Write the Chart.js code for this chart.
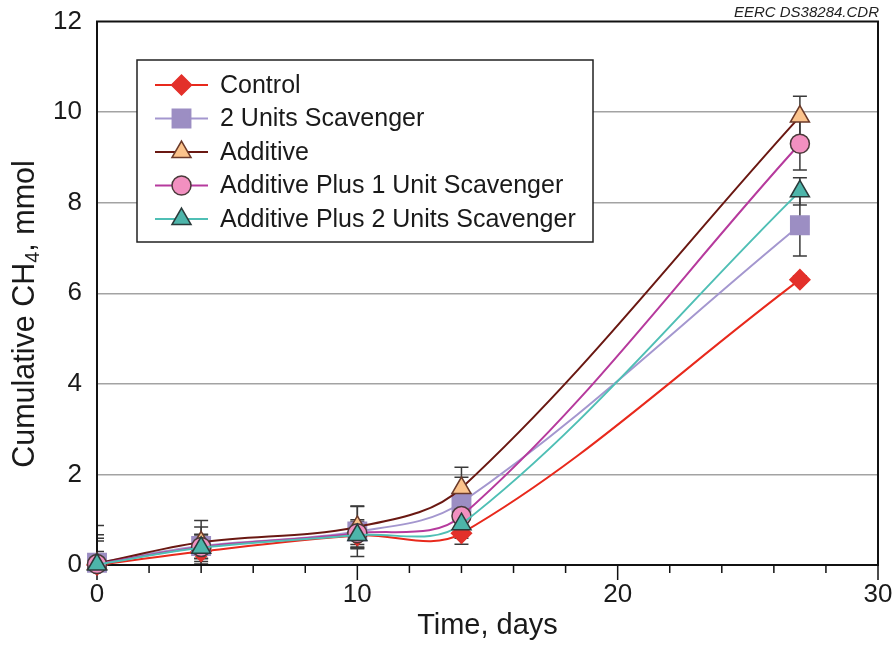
<!DOCTYPE html>
<html>
<head>
<meta charset="utf-8">
<title>Cumulative CH4</title>
<script src="https://cdn.jsdelivr.net/npm/chart.js@4.4.1/dist/chart.umd.min.js"></script>
<style>
  html, body { margin: 0; padding: 0; background: #fff; }
  #wrap { position: relative; width: 896px; height: 647px; }
  #note {
    position: absolute; right: 17px; top: 3px;
    font: italic 15px "Liberation Sans", Arial, sans-serif; color: #222;
  }
</style>
</head>
<body>
<div id="wrap">
  <canvas id="chart" width="896" height="647"></canvas>
  <div id="note">EERC DS38284.CDR</div>
</div>
<script>
// Data
const days = [0, 4, 10, 14, 27];
const seriesNames = ["Control", "2 Units Scavenger", "Additive",
  "Additive Plus 1 Unit Scavenger", "Additive Plus 2 Units Scavenger"];

const control = [0, 0.3, 0.65, 0.7, 6.3];
const scavenger2 = [0.05, 0.42, 0.74, 1.38, 7.5];
const additive = [0.03, 0.5, 0.84, 1.7, 9.9];
const plus1 = [0.02, 0.4, 0.7, 1.08, 9.3];
const plus2 = [0.01, 0.38, 0.66, 0.9, 8.25];

// error bar half-widths (+/-)
const controlErr = [0.3, 0.15, 0.2, 0.24, 0.08];
const scavenger2Err = [0.48, 0.42, 0.55, 0.56, 0.68];
const additiveErr = [0.84, 0.48, 0.46, 0.46, 0.45];
const plus1Err = [0.57, 0.26, 0.3, 0.3, 0.58];
const plus2Err = [0.66, 0.3, 0.3, 0.31, 0.3];

const xTicks = { min: 0, max: 30, step: 2, labelEvery: 10 };
const yTicks = { min: 0, max: 12, step: 2 };

const FONT = '"Liberation Sans", Arial, sans-serif';
const TEXT = "#1a1a1a";

function points(vals) {
  return days.map((d, i) => ({ x: d, y: vals[i] }));
}

function makeSet(i, vals, errs, line, style, fill, edge, radius, order) {
  return {
    label: seriesNames[i],
    data: points(vals),
    errors: errs,
    borderColor: line,
    borderWidth: 2,
    tension: 0.35,
    pointStyle: style,
    pointRadius: radius,
    pointHoverRadius: radius,
    pointBackgroundColor: fill,
    pointBorderColor: edge,
    pointBorderWidth: 1.5,
    clip: false,
    order: order,
  };
}

const datasets = [
  makeSet(0, control, controlErr, "#e8291c", "rectRot", "#e3302a", "#e3302a", 10, 5),
  makeSet(1, scavenger2, scavenger2Err, "#a497cf", "rect", "#9c8ec3", "#9c8ec3", 13, 4),
  makeSet(2, additive, additiveErr, "#6a1812", "triangle", "#fbc38c", "#6b3a2a", 11, 3),
  makeSet(3, plus1, plus1Err, "#b63a9d", "circle", "#f290c0", "#4a3a3a", 9.5, 2),
  makeSet(4, plus2, plus2Err, "#4fbfb5", "triangle", "#4db5aa", "#2a3a3a", 11, 1),
];

// frame around plot + outward x ticks + error bars (behind markers)
const backdrop = {
  id: "backdrop",
  beforeDatasetsDraw(chart) {
    const { ctx, chartArea: a, scales } = chart;
    ctx.save();
    // error bars, clipped to the plot
    ctx.beginPath();
    ctx.rect(a.left, a.top, a.right - a.left, a.bottom - a.top);
    ctx.clip();
    ctx.strokeStyle = "#3a3a3a";
    ctx.lineWidth = 1.5;
    chart.data.datasets.forEach((ds) => {
      ds.data.forEach((p, i) => {
        const e = ds.errors[i];
        const x = scales.x.getPixelForValue(p.x);
        const y1 = scales.y.getPixelForValue(p.y + e);
        const y2 = scales.y.getPixelForValue(p.y - e);
        ctx.beginPath();
        ctx.moveTo(x, y1); ctx.lineTo(x, y2);
        ctx.moveTo(x - 7, y1); ctx.lineTo(x + 7, y1);
        ctx.moveTo(x - 7, y2); ctx.lineTo(x + 7, y2);
        ctx.stroke();
      });
    });
    ctx.restore();

    ctx.save();
    ctx.strokeStyle = "#111";
    ctx.lineWidth = 2;
    ctx.strokeRect(a.left, a.top, a.right - a.left, a.bottom - a.top);
    ctx.lineWidth = 1.5;
    for (let v = xTicks.min; v <= xTicks.max; v += xTicks.step) {
      const x = scales.x.getPixelForValue(v);
      const len = v % xTicks.labelEvery === 0 ? 15 : 8;
      ctx.beginPath();
      ctx.moveTo(x, a.bottom);
      ctx.lineTo(x, a.bottom + len);
      ctx.stroke();
    }
    ctx.restore();
  },
};

// y title with a real subscript
const yTitle = {
  id: "yTitle",
  afterDraw(chart) {
    const { ctx } = chart;
    const parts = [["Cumulative CH", 30.5, 0], ["4", 20, 5], [", mmol", 30.5, 0]];
    ctx.save();
    ctx.translate(34, 314);
    ctx.rotate(-Math.PI / 2);
    ctx.fillStyle = TEXT;
    ctx.textBaseline = "alphabetic";
    let total = 0;
    parts.forEach(([t, s]) => { ctx.font = s + "px " + FONT; total += ctx.measureText(t).width; });
    let x = -total / 2;
    parts.forEach(([t, s, dy]) => {
      ctx.font = s + "px " + FONT;
      ctx.fillText(t, x, dy);
      x += ctx.measureText(t).width;
    });
    ctx.restore();
  },
};

// boxed legend inside the plot
const boxLegend = {
  id: "boxLegend",
  afterDraw(chart) {
    const { ctx } = chart;
    const bx = 137, by = 60, bw = 456, bh = 182;
    ctx.save();
    ctx.fillStyle = "#fff";
    ctx.fillRect(bx, by, bw, bh);
    ctx.strokeStyle = "#222";
    ctx.lineWidth = 1.5;
    ctx.strokeRect(bx, by, bw, bh);
    chart.data.datasets.forEach((ds, i) => {
      const y = by + 25 + i * 33.5;
      ctx.strokeStyle = ds.borderColor;
      ctx.lineWidth = 2;
      ctx.beginPath();
      ctx.moveTo(155, y);
      ctx.lineTo(208, y);
      ctx.stroke();
      ctx.fillStyle = ds.pointBackgroundColor;
      ctx.strokeStyle = ds.pointBorderColor;
      ctx.lineWidth = ds.pointBorderWidth;
      Chart.helpers.drawPoint(ctx, {
        pointStyle: ds.pointStyle,
        radius: ds.pointRadius,
        rotation: 0,
        borderWidth: ds.pointBorderWidth,
      }, 181.5, y);
      ctx.fillStyle = TEXT;
      ctx.font = "25px " + FONT;
      ctx.textBaseline = "middle";
      ctx.fillText(ds.label, 220, y + 1);
    });
    ctx.restore();
  },
};

new Chart(document.getElementById("chart"), {
  type: "line",
  data: { datasets: datasets },
  options: {
    responsive: false,
    animation: false,
    events: [],
    layout: { padding: { left: 10, right: 18, top: 21.5, bottom: 4 } },
    plugins: {
      legend: { display: false },
      tooltip: { enabled: false },
    },
    scales: {
      x: {
        type: "linear",
        min: xTicks.min,
        max: xTicks.max,
        border: { display: false },
        grid: { display: false, drawTicks: false },
        ticks: {
          stepSize: xTicks.step,
          autoSkip: false,
          maxRotation: 0,
          padding: 14,
          color: TEXT,
          font: { family: FONT, size: 26 },
          callback: (v) => (v % xTicks.labelEvery === 0 ? v : ""),
        },
        title: {
          display: true,
          text: "Time, days",
          color: TEXT,
          font: { family: FONT, size: 29 },
          padding: 0,
        },
        afterFit: (s) => { s.height = 78; s.paddingLeft = 0; s.paddingRight = 0; },
      },
      y: {
        min: yTicks.min,
        max: yTicks.max,
        border: { display: false },
        grid: {
          drawTicks: false,
          lineWidth: 1.5,
          color: (c) => (c.tick.value === yTicks.min || c.tick.value === yTicks.max
            ? "rgba(0,0,0,0)" : "#a3a3a3"),
        },
        ticks: {
          stepSize: yTicks.step,
          padding: 15,
          color: TEXT,
          font: { family: FONT, size: 26 },
        },
        afterFit: (s) => { s.width = 87; s.paddingTop = 0; s.paddingBottom = 0; },
      },
    },
  },
  plugins: [backdrop, yTitle, boxLegend],
});
</script>
</body>
</html>
